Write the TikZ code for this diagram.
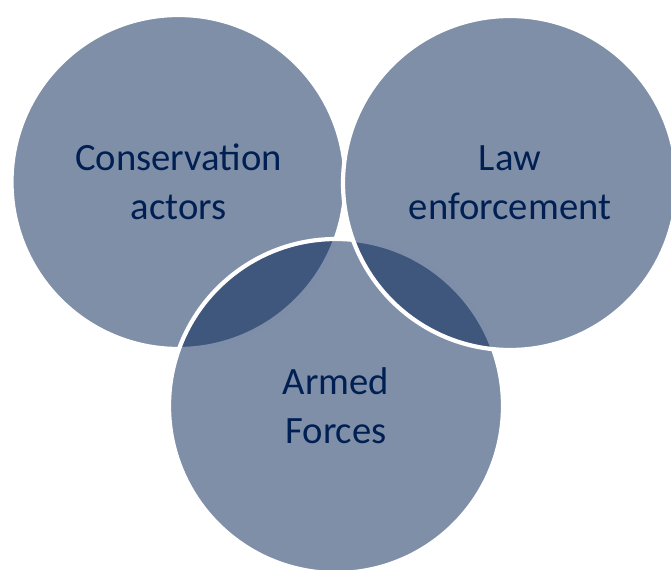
\documentclass[tikz,border=0pt]{standalone}
\usepackage{fontspec}
\newfontfamily\vennfont{Carlito}
\definecolor{navy}{RGB}{0,31,82}

\begin{document}
\begin{tikzpicture}[venn/.style={circle,minimum size=3.34cm,inner sep=0pt,
    fill=navy,fill opacity=0.5,draw=white,line width=1.2pt,
    text=navy,text opacity=1,align=center,
    font=\vennfont\fontsize{11}{13.9}\selectfont}]
% frame
\useasboundingbox (0,0) rectangle (6.71,5.69);
% circles
\node[venn] (cons) at (1.785,3.87) {Conservation\\actors};
\node[venn] (armed) at (3.36,1.63) {Armed\\Forces};
\node[venn] (law) at (5.10,3.86) {Law\\enforcement};
\end{tikzpicture}
\end{document}
